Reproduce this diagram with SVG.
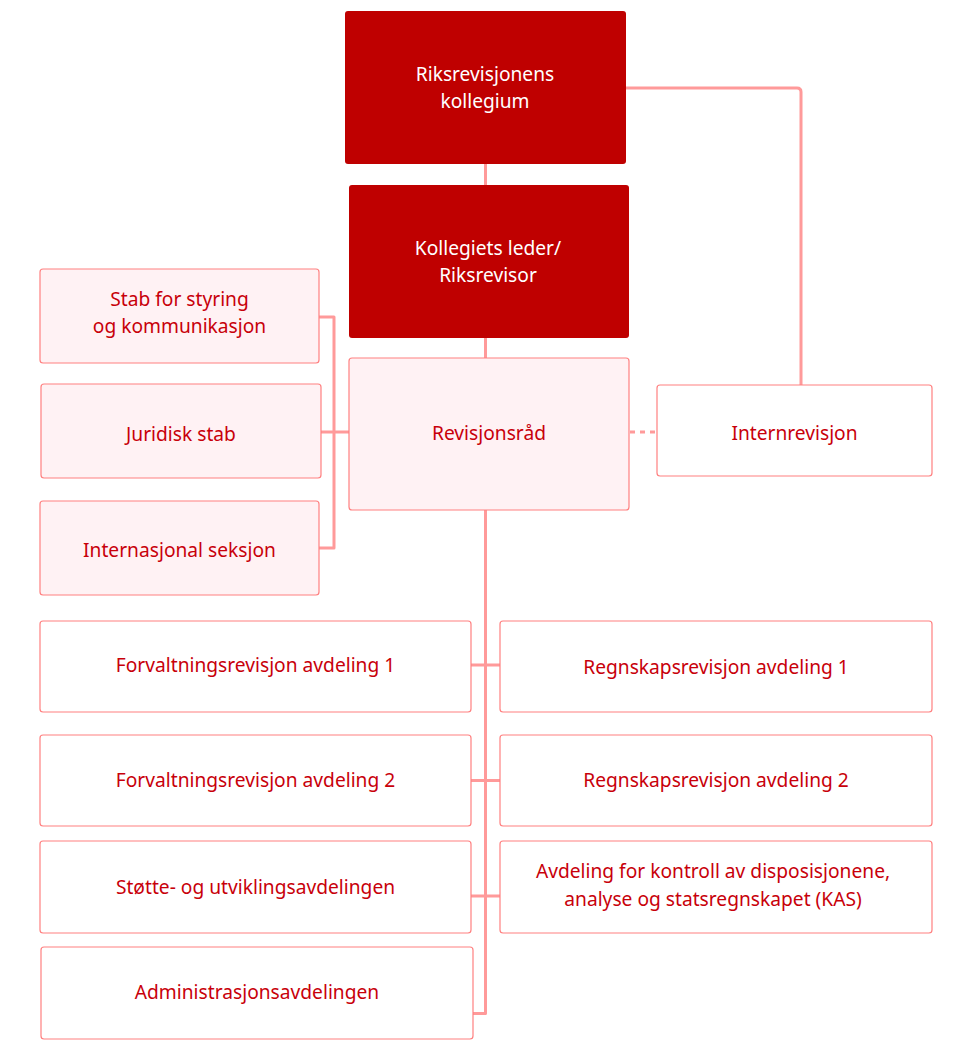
<svg xmlns="http://www.w3.org/2000/svg" width="972" height="1050" viewBox="0 0 972 1050">
<style>
.dark{fill:#BF0000;stroke:none}
.light{fill:#FFF2F4;stroke:#FF8080;stroke-width:1.2}
.white{fill:#FFFFFF;stroke:#FF8080;stroke-width:1.2}
text{font-family:"Noto Sans","Open Sans","Liberation Sans",sans-serif;font-size:19.2px;text-anchor:middle}
.tw{fill:#FFFFFF}
.tr{fill:#C8000A}
.con{fill:none;stroke:#FF9A9A;stroke-width:3;stroke-linejoin:round}
.dot{fill:none;stroke:#FF9A9A;stroke-width:3;stroke-dasharray:5 5}
</style>
<rect width="972" height="1050" fill="#FFFFFF"/>
<g id="connectors">
<path class="con" d="M485.5 164V185M485.5 338V358"/>
<path class="con" d="M626 88H797Q801 88 801 92V385"/>
<path class="dot" d="M630 432H657"/>
<path class="con" d="M319 317H334V548H319M321 432H349"/>
<path class="con" d="M485.5 510V1013.5H473M471 665H500M471 780.5H500M471 896H500"/>
</g>
<g id="n1"><rect class="dark" x="345" y="11" width="281" height="153" rx="3"/><text class="tw" x="485" y="80.5">Riksrevisjonens</text><text class="tw" x="485" y="107.5">kollegium</text></g>
<g id="n2"><rect class="dark" x="349" y="185" width="280" height="153" rx="3"/><text class="tw" x="488" y="254.5">Kollegiets leder/</text><text class="tw" x="488" y="281.5">Riksrevisor</text></g>
<g id="n3"><rect class="light" x="349" y="358" width="280" height="152" rx="3"/><text class="tr" x="489" y="439.5">Revisjonsråd</text></g>
<g id="n4"><rect class="white" x="657" y="385" width="275" height="91" rx="3"/><text class="tr" x="794.5" y="439.5">Internrevisjon</text></g>
<g id="n5"><rect class="light" x="40" y="269" width="279" height="94" rx="3"/><text class="tr" x="179.5" y="305.5">Stab for styring</text><text class="tr" x="179.5" y="332.5">og kommunikasjon</text></g>
<g id="n6"><rect class="light" x="41" y="384" width="280" height="94" rx="3"/><text class="tr" x="181" y="440.5">Juridisk stab</text></g>
<g id="n7"><rect class="light" x="40" y="501" width="279" height="94" rx="3"/><text class="tr" x="179.5" y="556.5">Internasjonal seksjon</text></g>
<g id="n8"><rect class="white" x="40" y="621" width="431" height="91" rx="3"/><text class="tr" x="255.5" y="671.5">Forvaltningsrevisjon avdeling 1</text></g>
<g id="n9"><rect class="white" x="500" y="621" width="432" height="91" rx="3"/><text class="tr" x="716" y="673.5">Regnskapsrevisjon avdeling 1</text></g>
<g id="n10"><rect class="white" x="40" y="735" width="431" height="91" rx="3"/><text class="tr" x="255.5" y="786.5">Forvaltningsrevisjon avdeling 2</text></g>
<g id="n11"><rect class="white" x="500" y="735" width="432" height="91" rx="3"/><text class="tr" x="716" y="786.5">Regnskapsrevisjon avdeling 2</text></g>
<g id="n12"><rect class="white" x="40" y="841" width="431" height="92" rx="3"/><text class="tr" x="255.5" y="893.5">Støtte- og utviklingsavdelingen</text></g>
<g id="n13"><rect class="white" x="500" y="841" width="432" height="92" rx="3"/><text class="tr" x="713" y="877.5">Avdeling for kontroll av disposisjonene,</text><text class="tr" x="713" y="905.5">analyse og statsregnskapet (KAS)</text></g>
<g id="n14"><rect class="white" x="41" y="947" width="432" height="92" rx="3"/><text class="tr" x="257" y="998.5">Administrasjonsavdelingen</text></g>
</svg>
